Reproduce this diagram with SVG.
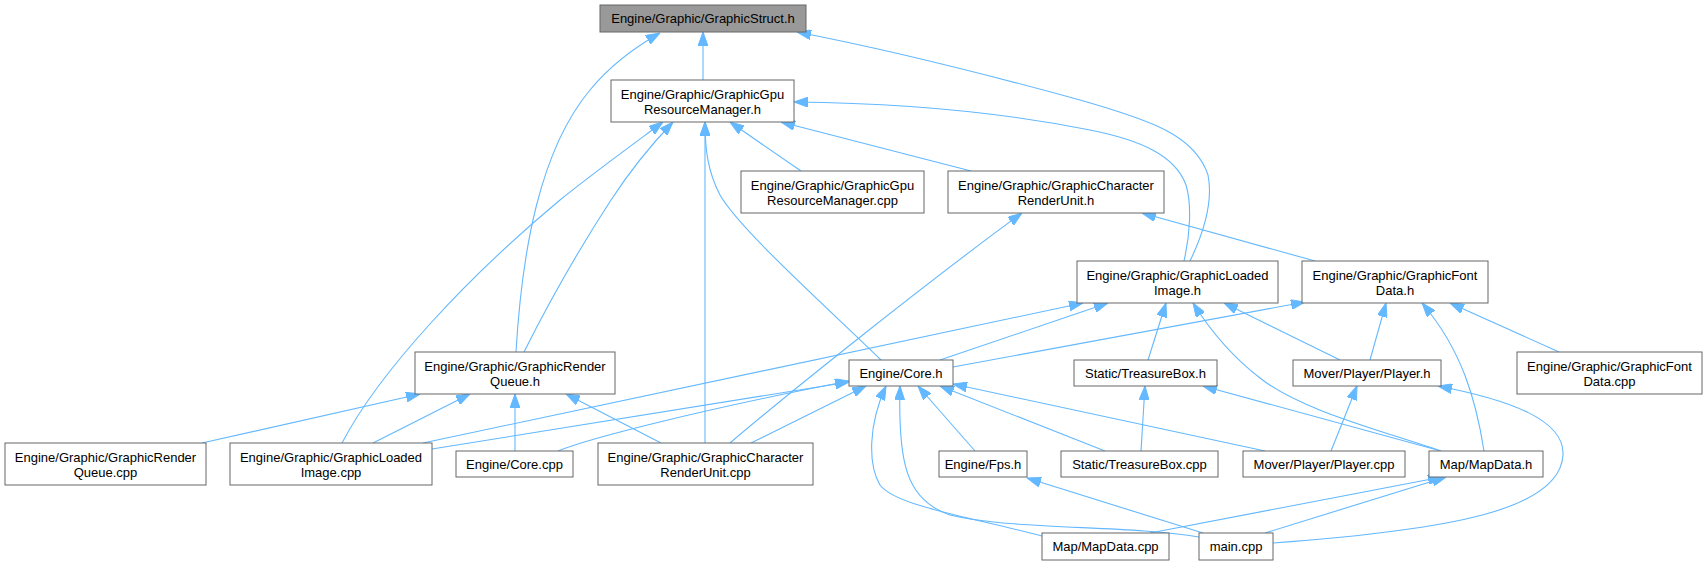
<svg xmlns="http://www.w3.org/2000/svg" width="1708" height="565" viewBox="0 0 1708 565">
<style>
  .nd rect { fill: #ffffff; stroke: #666666; stroke-width: 1; }
  .nd.root rect { fill: #999999; }
  .nd text { font-family: "Liberation Sans", Arial, sans-serif; font-size: 13px; fill: #000000; text-anchor: middle; }
  .ed path { fill: none; stroke: #63b8ff; stroke-width: 1.1; marker-end: url(#ah); }
</style>
<defs>
  <marker id="ah" markerWidth="14" markerHeight="10" refX="14" refY="5" orient="auto" markerUnits="userSpaceOnUse">
    <path d="M0,0 L14,5 L0,10 z" fill="#63b8ff" stroke="#63b8ff" stroke-width="1"/>
  </marker>
</defs>
<rect x="0" y="0" width="1708" height="565" fill="#ffffff"/>

<g id="edges" class="ed">
  <!-- to GraphicStruct.h -->
  <path d="M703,80 L703,32"/>
  <path d="M516,352 C522,250 540,150 590,90 C608,68 630,50 660,33"/>
  <path d="M1190,261 C1205,230 1213,200 1208,175 C1195,135 1150,120 1080,100 C1000,78 900,52 797,32"/>
  <!-- to GraphicGpuResourceManager.h -->
  <path d="M1184,261 C1190,235 1192,205 1186,185 C1175,155 1140,140 1090,130 C1000,112 900,103 794,102"/>
  <path d="M801,171 L730,122"/>
  <path d="M971,171 L781,122"/>
  <path d="M524,352 C550,300 585,240 611,200 C628,174 650,146 673,122"/>
  <path d="M342,443 C380,370 470,275 560,200 C592,174 628,148 663,122"/>
  <path d="M705,443 L705,122"/>
  <path d="M881,360 C830,310 740,230 720,195 C708,172 705,150 705,122"/>
  <!-- to GraphicCharacterRenderUnit.h -->
  <path d="M730,443 C790,392 930,280 1022,213"/>
  <path d="M1315,261 L1142,213"/>
  <!-- to GraphicLoadedImage.h -->
  <path d="M423,443 L1083,303"/>
  <path d="M940,360 L1108,303"/>
  <path d="M1148,360 L1166,303"/>
  <path d="M1340,360 L1224,303"/>
  <path d="M1441,451 C1380,430 1300,410 1260,378 C1230,355 1210,330 1193,303"/>
  <!-- to GraphicFontData.h -->
  <path d="M953,367 L1305,302"/>
  <path d="M1370,360 L1386,303"/>
  <path d="M1484,451 C1476,400 1462,350 1422,303"/>
  <path d="M1559,352 L1450,303"/>
  <!-- to GraphicRenderQueue.h -->
  <path d="M202,443 L420,394"/>
  <path d="M373,443 L470,394"/>
  <path d="M515,451 L515,394"/>
  <path d="M661,443 L566,394"/>
  <!-- to Engine/Core.h -->
  <path d="M432,449 L849,382"/>
  <path d="M558,451 C590,438 700,410 849,381"/>
  <path d="M751,443 L866,386"/>
  <path d="M1042,536 C960,515 895,505 880,485 C868,465 868,425 886,386"/>
  <path d="M1199,537 C1130,525 1010,530 950,515 C905,500 898,460 900,386"/>
  <path d="M975,451 L918,386"/>
  <path d="M1105,451 L940,386"/>
  <path d="M1265,451 L953,384"/>
  <!-- to Static/TreasureBox.h -->
  <path d="M1141,451 L1145,386"/>
  <path d="M1441,451 L1203,386"/>
  <!-- to Mover/Player/Player.h -->
  <path d="M1331,451 L1357,386"/>
  <path d="M1273,543 C1450,530 1560,510 1563,455 C1565,420 1510,400 1438,386"/>
  <!-- to Engine/Fps.h -->
  <path d="M1203,533 L1027,478"/>
  <!-- to Map/MapData.h -->
  <path d="M1150,533 L1442,477"/>
  <path d="M1265,533 L1446,477"/>
</g>

<g id="n_struct" class="nd root"><rect x="600" y="5" width="206" height="27"/><text x="703" y="23">Engine/Graphic/GraphicStruct.h</text></g>
<g id="n_gpu_h" class="nd"><rect x="611" y="80" width="183" height="42"/><text x="702.5" y="99">Engine/Graphic/GraphicGpu</text><text x="702.5" y="114">ResourceManager.h</text></g>
<g id="n_gpu_cpp" class="nd"><rect x="741" y="171" width="183" height="42"/><text x="832.5" y="190">Engine/Graphic/GraphicGpu</text><text x="832.5" y="205">ResourceManager.cpp</text></g>
<g id="n_cru_h" class="nd"><rect x="948" y="171" width="216" height="42"/><text x="1056" y="190">Engine/Graphic/GraphicCharacter</text><text x="1056" y="205">RenderUnit.h</text></g>
<g id="n_li_h" class="nd"><rect x="1077" y="261" width="201" height="42"/><text x="1177.5" y="280">Engine/Graphic/GraphicLoaded</text><text x="1177.5" y="295">Image.h</text></g>
<g id="n_fd_h" class="nd"><rect x="1302" y="261" width="186" height="42"/><text x="1395" y="280">Engine/Graphic/GraphicFont</text><text x="1395" y="295">Data.h</text></g>
<g id="n_rq_h" class="nd"><rect x="415" y="352" width="200" height="42"/><text x="515" y="371">Engine/Graphic/GraphicRender</text><text x="515" y="386">Queue.h</text></g>
<g id="n_core_h" class="nd"><rect x="849" y="360" width="104" height="26"/><text x="901" y="378">Engine/Core.h</text></g>
<g id="n_tb_h" class="nd"><rect x="1074" y="360" width="143" height="26"/><text x="1145.5" y="378">Static/TreasureBox.h</text></g>
<g id="n_player_h" class="nd"><rect x="1293" y="360" width="148" height="26"/><text x="1367" y="378">Mover/Player/Player.h</text></g>
<g id="n_fd_cpp" class="nd"><rect x="1517" y="352" width="185" height="42"/><text x="1609.5" y="371">Engine/Graphic/GraphicFont</text><text x="1609.5" y="386">Data.cpp</text></g>
<g id="n_rq_cpp" class="nd"><rect x="5" y="443" width="201" height="42"/><text x="105.5" y="462">Engine/Graphic/GraphicRender</text><text x="105.5" y="477">Queue.cpp</text></g>
<g id="n_li_cpp" class="nd"><rect x="230" y="443" width="202" height="42"/><text x="331" y="462">Engine/Graphic/GraphicLoaded</text><text x="331" y="477">Image.cpp</text></g>
<g id="n_core_cpp" class="nd"><rect x="456" y="451" width="117" height="26"/><text x="514.5" y="469">Engine/Core.cpp</text></g>
<g id="n_cru_cpp" class="nd"><rect x="598" y="443" width="215" height="42"/><text x="705.5" y="462">Engine/Graphic/GraphicCharacter</text><text x="705.5" y="477">RenderUnit.cpp</text></g>
<g id="n_fps_h" class="nd"><rect x="939" y="451" width="88" height="26"/><text x="983" y="469">Engine/Fps.h</text></g>
<g id="n_tb_cpp" class="nd"><rect x="1061" y="451" width="157" height="26"/><text x="1139.5" y="469">Static/TreasureBox.cpp</text></g>
<g id="n_player_cpp" class="nd"><rect x="1243" y="451" width="162" height="26"/><text x="1324" y="469">Mover/Player/Player.cpp</text></g>
<g id="n_mapdata_h" class="nd"><rect x="1429" y="451" width="114" height="26"/><text x="1486" y="469">Map/MapData.h</text></g>
<g id="n_mapdata_cpp" class="nd"><rect x="1042" y="533" width="127" height="27"/><text x="1105.5" y="551">Map/MapData.cpp</text></g>
<g id="n_main_cpp" class="nd"><rect x="1199" y="533" width="74" height="27"/><text x="1236" y="551">main.cpp</text></g>
</svg>
